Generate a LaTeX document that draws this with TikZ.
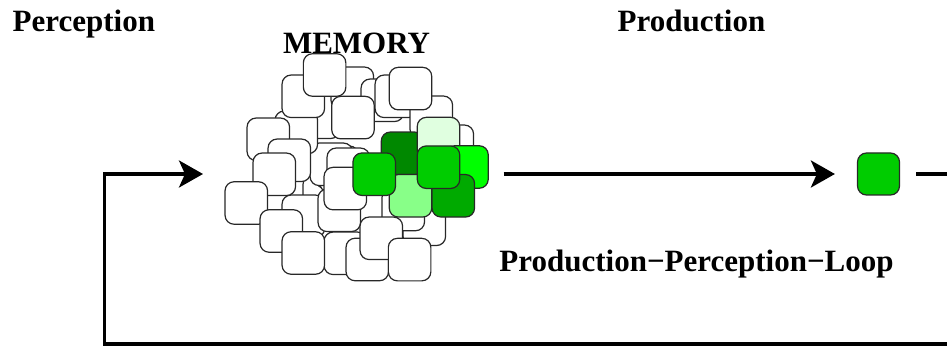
\documentclass[tikz,border=0pt]{standalone}
\usepackage{fontspec}
\setmainfont{Liberation Serif}
\usetikzlibrary{arrows.meta}
\definecolor{gA}{RGB}{0,136,0}
\definecolor{gB}{RGB}{224,255,224}
\definecolor{gC}{RGB}{0,204,0}
\definecolor{gD}{RGB}{136,255,136}
\definecolor{gE}{RGB}{0,170,0}
\definecolor{gF}{RGB}{0,255,0}
\definecolor{edge}{RGB}{40,40,40}
\tikzset{
  cell/.style={draw=edge, line width=1.2pt, rounded corners=9pt,
    minimum size=42.5pt, inner sep=0pt, fill=white},
  label/.style={font=\fontsize{31}{31}\selectfont\bfseries, inner sep=0pt},
  flow/.style={line width=3.4pt, -{Stealth[length=24pt, width=27pt, inset=6pt]}},
  loopline/.style={line width=3.4pt},
}
\begin{document}
\begin{tikzpicture}[x=1pt, y=-1pt]
\useasboundingbox (0,0) rectangle (947,347);
\clip (0,0) rectangle (947,347);

% titles
\node[label, anchor=base west] (tperc) at (12.5,32) {Perception};
\node[label, anchor=base] (tmem) at (356.5,54) {MEMORY};
\node[label, anchor=base] (tprod) at (691.5,32) {Production};
\node[label, anchor=base] (tloop) at (696.5,272) {Production−Perception−Loop};

% memory: stored items, back to front
\node[cell] (m01) at (324.3,196.3) {};
\node[cell] (m02) at (337.3,167.3) {};
\node[cell] (m03) at (341.3,171.3) {};
\node[cell] (m04) at (331.3,164.3) {};
\node[cell] (m05) at (318.3,117.3) {};
\node[cell] (m06) at (296.3,132.3) {};
\node[cell] (m07) at (352.3,88.3) {};
\node[cell] (m08) at (382.3,100.3) {};
\node[cell] (m09) at (396.3,96.3) {};
\node[cell] (m10) at (431.3,117.3) {};
\node[cell] (m11) at (452.3,146.3) {};
\node[cell] (m12) at (424.3,224.3) {};
\node[cell] (m13) at (403.3,209.5) {};
\node[cell] (m14) at (303.3,216.3) {};
\node[cell] (m15) at (268.3,139.3) {};
\node[cell] (m16) at (289.3,160.3) {};
\node[cell] (m17) at (274.3,174.3) {};
\node[cell] (m18) at (348.3,169.3) {};
\node[cell] (m19) at (339.3,210.3) {};
\node[cell] (m20) at (345.3,188.6) {};
\node[cell] (m21) at (345.3,253.3) {};
\node[cell] (m22) at (367.3,259.5) {};
\node[cell] (m23) at (381.3,238.3) {};
\node[cell] (m24) at (409.6,259.6) {};
\node[cell] (m25) at (246.3,203) {};
\node[cell] (m26) at (281.3,231) {};
\node[cell] (m27) at (303.3,253) {};
\node[cell] (m28) at (303.3,96.3) {};
\node[cell] (m29) at (324.6,75) {};
\node[cell] (m30) at (353,117.6) {};
\node[cell] (m31) at (410.5,88.6) {};

% activated items
\node[cell, fill=gA] (g1) at (402.5,153.3) {};
\node[cell, fill=gD] (g4) at (410.5,195.8) {};
\node[cell, fill=gB] (g2) at (438.5,138.6) {};
\node[cell, fill=gF] (g6) at (467,167) {};
\node[cell, fill=gE] (g5) at (453.3,195.8) {};
\node[cell, fill=gC] (g3) at (374.2,174.2) {};
\node[cell, fill=gC] (g7) at (438.5,167.2) {};

% produced item
\node[cell, fill=gC, minimum size=42pt] (out) at (878.5,174) {};

% production arrow
\draw[flow, shorten <=14.7pt, shorten >=22pt] (g6.east |- out.west) -- (out.west);

% feedback loop back into memory
\coordinate (rt) at (965,174);
\coordinate (rb) at (965,344);
\coordinate (lb) at (104.5,344);
\coordinate (lt) at (104.5,174);
\coordinate (memin) at (203,174);
\draw[flow, shorten <=16pt] (out.east) -- (rt) -- (rb) -- (lb) -- (lt) -- (memin);
\end{tikzpicture}
\end{document}
